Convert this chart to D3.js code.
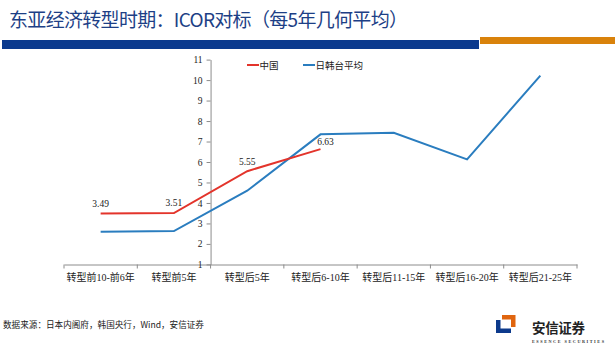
<!DOCTYPE html>
<html><head><meta charset="utf-8">
<script src="https://cdn.jsdelivr.net/npm/d3@7"></script>
<style>
html,body{margin:0;padding:0;background:#fff;}
svg{display:block;}
</style></head>
<body>
<svg id="c" width="615" height="347"></svg>
<script>
const categories = ["转型前10-前6年","转型前5年","转型后5年","转型后6-10年","转型后11-15年","转型后16-20年","转型后21-25年"];
const chinaValues = [3.49, 3.51, 5.55, 6.63];
const jktValues = [2.60, 2.63, 4.60, 7.35, 7.43, 6.13, 10.22];
const chinaLabels = ["3.49","3.51","5.55","6.63"];
const yTicks = [1,2,3,4,5,6,7,8,9,10,11];
const seriesNames = ["中国","日韩台平均"];
const titleText = "东亚经济转型时期：ICOR对标（每5年几何平均）";
const sourceText = "数据来源：日本内阁府，韩国央行，Wind，安信证券";

const svg = d3.select("#c");
const RED = "#e3342b", BLUE = "#2a7dbf";
const serif = "'Liberation Serif','Times New Roman','Noto Sans CJK SC',serif";
const cjk = "'Noto Sans CJK SC','Noto Sans',sans-serif";

// header
svg.append("text").attr("x",9).attr("y",27).attr("font-family",cjk)
  .attr("font-size",19).attr("fill","#1d3f86")
  .attr("textLength",399).attr("lengthAdjust","spacing").text(titleText);
svg.append("rect").attr("x",2).attr("y",40).attr("width",477).attr("height",9).attr("fill","#0b3a8e");
svg.append("rect").attr("x",480).attr("y",37).attr("width",135).attr("height",7).attr("fill","#d9820b");

// scales
const x = d3.scaleBand().domain(categories).range([64,577]).padding(0);
const cx = c => x(c) + x.bandwidth()/2;
const y = d3.scaleLinear().domain([1,11]).range([264.4,59.6]);

const axisColor = "#8c8c8c";
// x axis
const xAxis = svg.append("g").attr("transform","translate(0,264.5)")
  .call(d3.axisBottom(x).tickSize(0).tickPadding(0));
xAxis.select(".domain").attr("stroke",axisColor);
xAxis.selectAll(".tick text").remove();
// boundary ticks
const bounds = categories.map(c=>x(c)).concat([x.range()[1]]);
svg.append("g").selectAll("line").data(bounds).join("line")
  .attr("x1",d=>d).attr("x2",d=>d).attr("y1",264.5).attr("y2",268.5)
  .attr("stroke",axisColor);
svg.append("g").selectAll("text").data(categories).join("text")
  .attr("x",d=>cx(d)).attr("y",281).attr("text-anchor","middle")
  .attr("font-family",serif).attr("font-size",10).attr("fill","#222")
  .text(d=>d);

// y axis
const yAxisX = x(categories[2]);
const yAxis = svg.append("g").attr("transform",`translate(${yAxisX},0)`)
  .call(d3.axisLeft(y).tickValues(yTicks).tickSize(4).tickSizeOuter(0).tickPadding(4).tickFormat(d3.format("d")));
yAxis.select(".domain").attr("stroke",axisColor);
yAxis.selectAll(".tick line").attr("stroke",axisColor);
yAxis.selectAll(".tick text").attr("font-family",serif).attr("font-size",9.5).attr("fill","#222");

// lines
const line = d3.line().x((d,i)=>cx(categories[i])).y(d=>y(d));
svg.append("path").datum(jktValues).attr("d",line).attr("fill","none")
  .attr("stroke",BLUE).attr("stroke-width",2);
svg.append("path").datum(chinaValues).attr("d",line).attr("fill","none")
  .attr("stroke",RED).attr("stroke-width",2);

// data labels
svg.append("g").selectAll("text").data(chinaValues).join("text")
  .attr("x",(d,i)=>cx(categories[i]) + (i===3?5:0))
  .attr("y",(d,i)=>y(d) - (i===3?4:6.5))
  .attr("text-anchor","middle").attr("font-family",serif).attr("font-size",9.5).attr("fill","#222")
  .text((d,i)=>chinaLabels[i]);

// legend
const lg = svg.append("g").attr("font-family",cjk).attr("font-size",9.5).attr("fill","#222");
[[247,RED,seriesNames[0]],[303,BLUE,seriesNames[1]]].forEach(([lx,col,name])=>{
  lg.append("line").attr("x1",lx).attr("x2",lx+12).attr("y1",65).attr("y2",65).attr("stroke",col).attr("stroke-width",2);
  lg.append("text").attr("x",lx+12.5).attr("y",68.5).text(name);
});

// footer
svg.append("text").attr("x",3).attr("y",328).attr("font-family",cjk).attr("font-size",8.6)
  .attr("fill","#222").text(sourceText);

// logo
const logo = svg.append("g");
logo.append("path").attr("d","M496,320 L500.5,320 L500.5,328.5 L511,328.5 L511,333 L496,333 Z").attr("fill","#0d3a8c");
logo.append("path").attr("d","M502,315 L515.5,315 L515.5,327 L511,327 L511,319.5 L502,319.5 Z").attr("fill","#e0650f");
logo.append("text").attr("x",532).attr("y",333).attr("font-family",cjk).attr("font-weight","bold")
  .attr("font-size",13.5).attr("fill","#222").attr("textLength",53).text("安信证券");
logo.append("text").attr("x",532).attr("y",342.5).attr("font-family","'Liberation Serif',serif").attr("font-weight","bold")
  .attr("font-size",4.2).attr("fill","#333").attr("textLength",72).text("ESSENCE SECURITIES");
</script>
</body></html>
